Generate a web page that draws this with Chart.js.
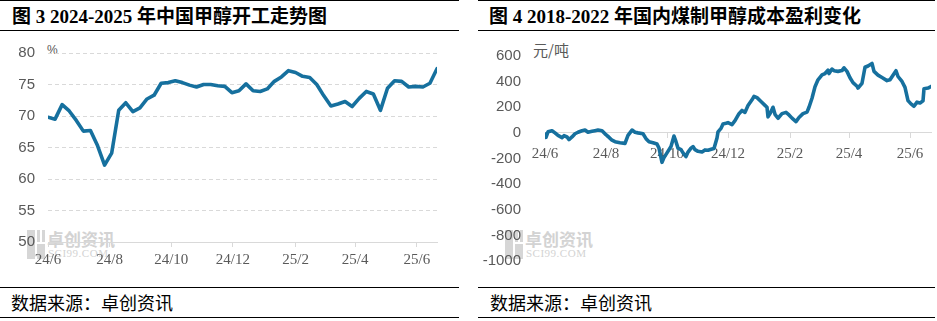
<!DOCTYPE html>
<html>
<head>
<meta charset="utf-8">
<script src="https://cdn.jsdelivr.net/npm/chart.js@4.4.0/dist/chart.umd.min.js"></script>
<style>
    html, body { margin: 0; padding: 0; background: #fff; }
    body { width: 937px; height: 321px; position: relative; overflow: hidden; font-family: "Noto Sans CJK SC", sans-serif; }
    .rule { position: absolute; height: 1px; background: #000; }
    .title { position: absolute; top: 1px; font: bold 19px "Liberation Serif", "Noto Sans CJK SC"; color: #000; white-space: nowrap; }
    .source { position: absolute; top: 289px; font-size: 18px; color: #000; white-space: nowrap; }
    .unit { position: absolute; color: #595959; white-space: nowrap; }
    .wm { position: absolute; top: 228px; width: 90px; height: 32px; }
    .wm .logo { position: absolute; left: 0; top: 2px; width: 8px; height: 29px; background: #d6d6d6; }
    .wm .logo2 { position: absolute; left: 10px; top: 16px; width: 8px; height: 15px; background: #d6d6d6; }
    .wm .dots { position: absolute; left: 10px; top: 2px; width: 8px; height: 12px;
        background: repeating-linear-gradient(90deg, #d6d6d6 0 3px, transparent 3px 5px); }
    .wm .cn { position: absolute; left: 20px; top: -2px; font: bold 17px "Noto Sans CJK SC"; color: #d3d3d3; }
    .wm .en { position: absolute; left: 21px; top: 19px; font: 11px "Liberation Serif"; color: #d3d3d3; letter-spacing: 0.5px; }
    .box { position: absolute; }
</style>
</head>
<body>

<!-- 版面线条 -->
<div class="rule" style="left:0; top:0; width:459px;"></div>
<div class="rule" style="left:478px; top:0; width:457px;"></div>
<div class="rule" style="left:0; top:30px; width:459px;"></div>
<div class="rule" style="left:478px; top:30px; width:457px;"></div>
<div class="rule" style="left:0; top:287px; width:459px;"></div>
<div class="rule" style="left:478px; top:287px; width:457px;"></div>
<div class="rule" style="left:0; top:317px; width:459px;"></div>
<div class="rule" style="left:478px; top:317px; width:457px;"></div>

<div class="title" style="left:12px;">图 3 2024-2025 年中国甲醇开工走势图</div>
<div class="title" style="left:489px;">图 4 2018-2022 年国内煤制甲醇成本盈利变化</div>

<div class="source" style="left:11px;">数据来源：卓创资讯</div>
<div class="source" style="left:490px;">数据来源：卓创资讯</div>

<!-- 水印 -->
<div class="wm" style="left:27px;"><div class="logo"></div><div class="dots"></div><div class="logo2"></div><div class="cn">卓创资讯</div><div class="en">SCI99.COM</div></div>
<div class="wm" style="left:505px;"><div class="logo"></div><div class="dots"></div><div class="logo2"></div><div class="cn">卓创资讯</div><div class="en">SCI99.COM</div></div>

<div class="unit" style="left:47px; top:43px; font-size:12px; font-family:'Liberation Sans';">%</div>
<div class="unit" style="left:533px; top:39px; font-size:15px;">元/吨</div>

<div class="box" style="left:0; top:31px;"><canvas id="rateChart" width="460" height="255"></canvas></div>
<div class="box" style="left:478px; top:31px;"><canvas id="profitChart" width="459" height="255"></canvas></div>

<script>
// 横轴刻度（月份）
const tickLabels = ['24/6', '24/8', '24/10', '24/12', '25/2', '25/4', '25/6'];

// 图3：甲醇开工率（%），周度
const rateValues = [
    69.8, 69.5, 71.8, 70.8, 69.3, 67.6, 67.7, 65.3, 62.2, 64.1,
    70.9, 72.1, 70.7, 71.3, 72.7, 73.3, 75.2, 75.3, 75.6, 75.3,
    74.9, 74.6, 75.0, 75.0, 74.8, 74.7, 73.7, 74.0, 75.1, 74.0,
    73.9, 74.3, 75.5, 76.2, 77.2, 76.9, 76.3, 76.1, 75.0, 73.2,
    71.6, 71.9, 72.3, 71.5, 72.8, 73.9, 73.5, 70.9, 74.4, 75.6,
    75.5, 74.6, 74.7, 74.6, 75.2, 77.5
];
// 每周一个点，从 2024-06-01 起算的天数
const rateDays = rateValues.map((_, i) => i * 7);

// 图4：煤制甲醇利润（元/吨）
const profitDays = [
    0, 1, 3, 7, 10, 13, 17, 19, 22, 24,
    27, 30, 33, 37, 40, 43, 47, 50, 53, 57,
    60, 63, 67, 70, 75, 80, 83, 87, 90, 93,
    98, 101, 104, 108, 112, 114, 116, 117, 119, 122,
    126, 129, 131, 133, 136, 138, 141, 143, 146, 148,
    150, 153, 157, 160, 163, 167, 169, 172, 173, 176,
    178, 181, 183, 187, 190, 194, 197, 200, 203, 207,
    209, 212, 216, 220, 222, 223, 225, 228, 230, 233,
    237, 241, 244, 247, 251, 254, 258, 262, 264, 267,
    270, 273, 277, 280, 283, 284, 287, 289, 293, 297,
    299, 302, 305, 308, 312, 313, 317, 320, 323, 327,
    329, 333, 337, 342, 345, 348, 351, 353, 357, 360,
    363, 366, 369, 372, 375, 378, 379, 383, 386
];
const profitValues = [
    -10, -35, 8, 17, 0, -20, -37, -22, -32, -52,
    -32, -7, 5, 17, 22, 5, 12, 17, 22, 17,
    -7, -27, -57, -69, -77, -82, -20, 22, 5, 0,
    -7, -45, -69, -77, -87, -119, -193, -230, -193, -156,
    -107, -25, -69, -119, -131, -156, -185, -150, -119, -107,
    -131, -144, -149, -133, -136, -126, -122, -40, 8, 35,
    70, 75, 80, 65, 95, 150, 175, 160, 213, 258,
    285, 275, 245, 215, 200, 125, 150, 200, 145, 114,
    150, 160, 140, 115, 88, 120, 150, 162, 200, 270,
    360, 414, 452, 463, 490, 463, 498, 485, 480, 486,
    508, 480, 430, 392, 364, 350, 387, 512, 522, 542,
    480, 451, 432, 408, 414, 450, 485, 440, 401, 355,
    252, 226, 208, 240, 233, 250, 345, 350, 362
];

const LINE_COLOR = '#16709e';
const AXIS_COLOR = '#d9d9d9';
const TEXT_COLOR = '#595959';

// 月份标签对应的天数
function monthDay(lbl) {
    const [y, m] = lbl.split('/').map(Number);
    return (Date.UTC(2000 + y, m - 1, 1) - Date.UTC(2024, 5, 1)) / 86400000;
}
const tickDays = tickLabels.map(monthDay);

function lineDataset(xs, ys) {
    return {
        data: xs.map((x, i) => ({ x: x, y: ys[i] })),
        borderColor: LINE_COLOR,
        borderWidth: 3.6,
        pointRadius: 0,
        tension: 0,
        borderJoinStyle: 'round',
        borderCapStyle: 'round'
    };
}

function monthAxis(max, padding, extra) {
    return Object.assign({
        type: 'linear',
        min: 0,
        max: max,
        afterBuildTicks: s => { s.ticks = tickDays.map(v => ({ value: v })); },
        grid: { drawOnChartArea: false, color: AXIS_COLOR, tickLength: 5 },
        border: { color: AXIS_COLOR },
        ticks: {
            autoSkip: false,
            maxRotation: 0,
            padding: padding,
            color: TEXT_COLOR,
            font: { family: 'Liberation Serif', size: 15 },
            callback: (v, i) => tickLabels[i]
        }
    }, extra);
}

const common = {
    responsive: false,
    animation: false,
    events: [],
    plugins: { legend: { display: false }, tooltip: { enabled: false } }
};

// 图3
new Chart(document.getElementById('rateChart'), {
    type: 'line',
    data: { datasets: [lineDataset(rateDays, rateValues)] },
    options: Object.assign({}, common, {
        layout: { padding: { top: 17, right: 23, bottom: 14, left: 0 } },
        scales: {
            x: monthAxis(385, 4, { afterFit: s => { s.height = 30; } }),
            y: {
                min: 50,
                max: 80,
                afterFit: s => { s.width = 48; },
                ticks: { stepSize: 5, padding: 13, color: TEXT_COLOR, font: { family: 'Liberation Sans', size: 15 } },
                grid: {
                    color: ctx => ctx.tick.value === 50 ? 'rgba(0,0,0,0)' : AXIS_COLOR,
                    drawTicks: false
                },
                border: { display: false, dash: [4, 3] }
            }
        }
    })
});

// 图4
new Chart(document.getElementById('profitChart'), {
    type: 'line',
    data: { datasets: [lineDataset(profitDays, profitValues)] },
    options: Object.assign({}, common, {
        layout: { padding: { top: 17, right: 6, bottom: 24, left: 0 } },
        scales: {
            x: monthAxis(386, 7, { position: { y: 0 } }),
            y: {
                min: -1000,
                max: 600,
                afterFit: s => { s.width = 67; },
                ticks: {
                    stepSize: 200,
                    padding: 16,
                    color: TEXT_COLOR,
                    font: { family: 'Liberation Sans', size: 15 },
                    callback: v => String(v)
                },
                grid: { display: false },
                border: { display: false }
            }
        }
    })
});
</script>
</body>
</html>
